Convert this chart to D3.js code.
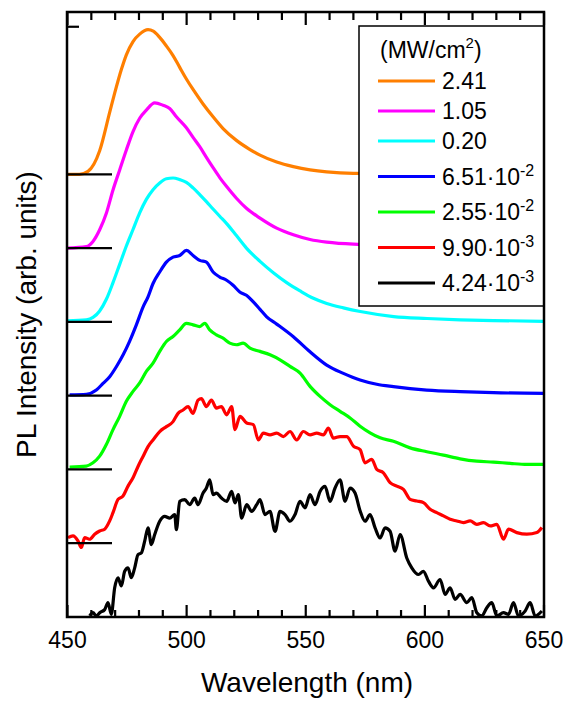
<!DOCTYPE html>
<html>
<head>
<meta charset="utf-8">
<script src="https://cdn.jsdelivr.net/npm/d3@7"></script>
<style>
body { margin: 0; background: #fff; }
text { font-family: "Liberation Sans", Arial, sans-serif; fill: #000; }
</style>
</head>
<body>
<div id="chart"></div>
<script>
// PL spectra, normalised intensity vs wavelength (nm)
var orange = [[450,0],[455,0],[458.6,0.02],[463.5,0.16],[467.7,0.42],[469.8,0.55],[472.6,0.71],[474.7,0.81],[477.5,0.9],[480.3,0.95],[483.8,0.98],[486,0.97],[488.6,0.93],[491.5,0.87],[494.3,0.805],[497.1,0.725],[499.9,0.646],[502.7,0.575],[506.9,0.477],[511.1,0.39],[515.3,0.31],[520.9,0.23],[526.6,0.168],[530.8,0.13],[537.8,0.083],[544.8,0.052],[551.8,0.03],[558.8,0.016],[570,0.006],[600,0.003],[650,0.002]];
var magenta = [[450,0],[457.9,0.01],[460.7,0.045],[463.5,0.124],[466.3,0.236],[469.1,0.394],[471.9,0.53],[474.7,0.665],[477.5,0.79],[480.3,0.88],[483.1,0.935],[486.6,0.984],[490.1,0.968],[492.9,0.946],[495.7,0.89],[499.9,0.815],[502.7,0.75],[505.5,0.687],[508.3,0.615],[511.1,0.545],[513.9,0.478],[516.8,0.417],[520.9,0.338],[525.1,0.27],[530.8,0.203],[537.8,0.135],[544.8,0.09],[551.8,0.058],[558.8,0.04],[570,0.027],[600,0.018],[650,0.012]];
var cyan = [[450,0.007],[457.9,0.014],[460.7,0.03],[463.5,0.074],[466.3,0.153],[469.1,0.266],[471.9,0.39],[474.7,0.514],[477.5,0.626],[480.3,0.739],[483.1,0.83],[485.9,0.896],[488.7,0.941],[491.5,0.97],[494.3,0.975],[497.1,0.964],[499.9,0.945],[502.7,0.908],[505.5,0.863],[508.3,0.815],[511.1,0.765],[513.9,0.716],[516.8,0.666],[520.9,0.585],[525.1,0.5],[530.8,0.41],[536.4,0.333],[542,0.266],[547.6,0.21],[553.2,0.16],[558.8,0.125],[565.8,0.095],[572.9,0.07],[586.9,0.036],[600.9,0.023],[614.8,0.014],[628.8,0.009],[649.8,0.004]];
var blue = [[450.9,0.005],[457.9,0.009],[462.1,0.038],[464.9,0.083],[467.7,0.128],[470.5,0.196],[473.3,0.275],[476.1,0.37],[478.9,0.48],[481.7,0.6],[483.8,0.67],[485.9,0.76],[488.7,0.838],[491.5,0.905],[494.3,0.939],[497.1,0.95],[499.9,0.984],[502.7,0.95],[505.5,0.917],[508.3,0.905],[511.1,0.838],[513.9,0.804],[516.8,0.782],[519.5,0.748],[522.3,0.703],[525.1,0.68],[528,0.635],[530.8,0.585],[533.6,0.534],[537.8,0.485],[544.8,0.399],[551.8,0.297],[558.8,0.207],[565.8,0.151],[572.8,0.106],[579.8,0.077],[586.8,0.061],[600.8,0.038],[614.8,0.027],[628.8,0.02],[649.8,0.016]];
var green = [[450.9,0.016],[457.9,0.023],[460.7,0.045],[463.5,0.09],[466.3,0.169],[469.1,0.27],[471.9,0.36],[474.7,0.462],[477.5,0.529],[480.3,0.586],[483.1,0.664],[485.9,0.72],[488.7,0.8],[491.5,0.867],[494.3,0.901],[497.1,0.946],[499.9,0.99],[502.7,0.98],[505.5,0.968],[507.6,0.99],[509.7,0.946],[512.5,0.912],[515.3,0.89],[518.1,0.856],[520.9,0.845],[523.7,0.856],[526.6,0.822],[530.8,0.8],[535,0.777],[539.2,0.743],[543.4,0.698],[547.6,0.653],[551.8,0.563],[556,0.495],[560.2,0.439],[564.4,0.394],[568.6,0.349],[572.8,0.293],[577,0.248],[581.2,0.214],[586.8,0.191],[593.8,0.146],[600.8,0.12],[607.8,0.097],[614.8,0.072],[621.8,0.056],[628.8,0.05],[635.8,0.041],[642.8,0.034],[649.8,0.034]];
var red = [[450.2,0.038],[452.3,0.05],[454.4,0.016],[455.8,-0.029],[457.2,0.038],[459.3,0.027],[461.4,0.061],[463.5,0.083],[465.6,0.095],[467.7,0.151],[469.1,0.207],[471.2,0.297],[473.3,0.32],[475.4,0.387],[477.5,0.443],[479.6,0.52],[481.7,0.588],[483.8,0.655],[485.9,0.7],[488.7,0.757],[491.5,0.79],[494.3,0.824],[496.4,0.88],[498.5,0.903],[500.6,0.926],[502.7,0.88],[504.8,0.97],[506.2,0.98],[508.3,0.926],[510.4,0.97],[512.5,0.916],[514.6,0.926],[516.8,0.87],[518.9,0.926],[520.3,0.77],[522.4,0.86],[525.2,0.815],[528,0.804],[530.1,0.7],[532.2,0.746],[535,0.734],[537.8,0.746],[540.6,0.723],[543.4,0.757],[546.2,0.7],[549,0.757],[551.8,0.734],[554.6,0.746],[557.4,0.734],[559.5,0.78],[561.6,0.712],[564.4,0.723],[567.2,0.723],[570,0.658],[572.8,0.635],[574.9,0.545],[577.7,0.568],[579.8,0.5],[582.6,0.477],[585.4,0.41],[588.2,0.387],[591,0.365],[593.8,0.297],[596.6,0.286],[599.4,0.275],[602.2,0.23],[605,0.207],[607.8,0.185],[610.6,0.162],[613.4,0.151],[616.2,0.14],[619,0.151],[621.8,0.128],[624.6,0.14],[627.4,0.117],[630.2,0.128],[633,0.027],[635.1,0.095],[638.6,0.072],[642.8,0.061],[647,0.072],[649.1,0.106]];
var black = [[459.3,0.007],[460.7,0.029],[462.1,0.007],[463.5,0.029],[465.6,0.05],[467,0.097],[468.4,0.018],[469.8,0.198],[471.2,0.266],[472.6,0.21],[474,0.31],[475.4,0.333],[476.8,0.266],[478.2,0.333],[479.6,0.423],[481,0.434],[482.4,0.514],[483.8,0.604],[485.2,0.491],[486.6,0.559],[488.7,0.649],[490.8,0.682],[492.9,0.67],[495,0.694],[495.7,0.592],[497.1,0.784],[499.2,0.795],[501.3,0.761],[503.4,0.806],[504.8,0.761],[506.9,0.84],[508.3,0.874],[509.7,0.93],[511.1,0.829],[512.5,0.84],[514.6,0.806],[516.8,0.784],[518.9,0.851],[520.3,0.773],[521.7,0.829],[523.1,0.67],[525.2,0.761],[527.3,0.716],[529.4,0.761],[530.8,0.795],[532.9,0.694],[535,0.716],[537.1,0.58],[539.2,0.716],[541.3,0.694],[543.4,0.649],[545.5,0.694],[547.6,0.784],[549.7,0.74],[551.8,0.829],[553.9,0.761],[556,0.851],[558.1,0.885],[560.2,0.784],[562.3,0.874],[564.4,0.93],[566.5,0.784],[568.6,0.874],[570.7,0.84],[572.8,0.72],[574.9,0.649],[577,0.694],[579.1,0.604],[581.2,0.536],[583.3,0.604],[585.4,0.581],[587.5,0.446],[589.6,0.559],[592.4,0.4],[594.5,0.333],[597.3,0.288],[599.4,0.31],[601.5,0.243],[603.6,0.198],[606.4,0.254],[608.5,0.153],[610.6,0.198],[612.7,0.119],[614.8,0.153],[617.6,0.097],[619.7,0.131],[621.8,0.029],[623.9,0.007],[626,0.063],[628.1,0.097],[630.2,0.007],[633,0.029],[635.1,0.018],[637.2,0.097],[639.3,0.007],[642.1,0.041],[644.2,0.097],[646.3,0.007],[649.1,0.041]];

var series = [orange, magenta, cyan, blue, green, red, black];
var colors = ["#ff7f00", "#ff00ff", "#00ffff", "#0000ff", "#00ff00", "#ff0000", "#000000"];
var offsets = [3, 2.5, 2, 1.5, 1, 0.5, 0];
var legendBase = ["2.41", "1.05", "0.20", "6.51\u00b710", "2.55\u00b710", "9.90\u00b710", "4.24\u00b710"];
var legendExp = ["", "", "", "-2", "-2", "-3", "-3"];
var majorTicks = [450, 500, 550, 600, 650];
var minorTicks = d3.range(460, 650, 10).filter(function(d){ return d % 50 != 0; });

var width = 566, height = 704;
var pLeft = 67, pRight = 544, pTop = 12, pBottom = 617;

var svg = d3.select("#chart").append("svg")
    .attr("width", width)
    .attr("height", height);

var x = d3.scaleLinear().domain([450, 650]).range([pLeft + 0.5, pRight]);
var y = d3.scaleLinear().domain([0, 4.1]).range([pBottom, pTop]);

svg.append("clipPath").attr("id", "clip")
    .append("rect")
    .attr("x", pLeft).attr("y", pTop)
    .attr("width", pRight - pLeft).attr("height", pBottom - pTop);

// spectra
var line = d3.line().curve(d3.curveMonotoneX);
var plot = svg.append("g").attr("clip-path", "url(#clip)");
series.forEach(function(s, i) {
    plot.append("path")
        .datum(s)
        .attr("fill", "none")
        .attr("stroke", colors[i])
        .attr("stroke-width", 3.2)
        .attr("stroke-linejoin", "round")
        .attr("d", line.x(function(d){ return x(d[0]); })
                       .y(function(d){ return y(d[1] + offsets[i]); }));
});

// x ticks, pointing inward on top and bottom
var xTicks = majorTicks.map(function(d){ return {v: d, len: 12}; })
    .concat(minorTicks.map(function(d){ return {v: d, len: 7}; }));
var tickG = svg.append("g").attr("stroke", "#000").attr("stroke-width", 2.2);
tickG.selectAll(".tb").data(xTicks).enter().append("line")
    .attr("class", "tb")
    .attr("x1", function(d){ return x(d.v); }).attr("x2", function(d){ return x(d.v); })
    .attr("y1", pBottom).attr("y2", function(d){ return pBottom - d.len; });
tickG.selectAll(".tt").data(xTicks).enter().append("line")
    .attr("class", "tt")
    .attr("x1", function(d){ return x(d.v); }).attr("x2", function(d){ return x(d.v); })
    .attr("y1", pTop).attr("y2", function(d){ return pTop + d.len + 1; });

// y ticks: baseline markers and one short tick
var yTicks = offsets.filter(function(d){ return d > 0; }).map(function(d){ return {v: d, len: 45}; })
    .concat([{v: 4, len: 12}]);
tickG.selectAll(".ty").data(yTicks).enter().append("line")
    .attr("class", "ty")
    .attr("x1", pLeft).attr("x2", function(d){ return pLeft + d.len; })
    .attr("y1", function(d){ return y(d.v); }).attr("y2", function(d){ return y(d.v); });

// x tick labels
svg.selectAll(".xl").data(majorTicks).enter().append("text")
    .attr("class", "xl")
    .attr("x", function(d){ return x(d); })
    .attr("y", 648)
    .attr("text-anchor", "middle")
    .style("font-size", "23px")
    .text(function(d){ return d; });

// legend
var legend = svg.append("g");
legend.append("rect")
    .attr("x", 359).attr("y", 26)
    .attr("width", pRight - 359).attr("height", 280)
    .attr("fill", "#fff")
    .attr("stroke", "#000")
    .attr("stroke-width", 1.5);

var title = legend.append("text").attr("x", 380).attr("y", 58).style("font-size", "23px");
title.append("tspan").text("(MW/cm");
title.append("tspan").attr("dy", -10).style("font-size", "15px").text("2");
title.append("tspan").attr("dy", 10).text(")");

var rowY = 81;
legendBase.forEach(function(lbl, i) {
    if (i > 0) rowY += legendExp[i] ? 35.5 : 30;
    legend.append("line")
        .attr("x1", 378).attr("x2", 435)
        .attr("y1", rowY).attr("y2", rowY)
        .attr("stroke", colors[i])
        .attr("stroke-width", 3);
    var t = legend.append("text")
        .attr("x", 442).attr("y", rowY + 8)
        .style("font-size", "23px");
    t.append("tspan").text(lbl);
    if (legendExp[i]) {
        t.append("tspan").attr("dy", -9).style("font-size", "16px").text(legendExp[i]);
    }
});

// frame
svg.append("rect")
    .attr("x", pLeft).attr("y", pTop)
    .attr("width", pRight - pLeft).attr("height", pBottom - pTop)
    .attr("fill", "none")
    .attr("stroke", "#000")
    .attr("stroke-width", 2.5);

// axis titles
svg.append("text")
    .attr("x", 307).attr("y", 692)
    .attr("text-anchor", "middle")
    .style("font-size", "28px")
    .text("Wavelength (nm)");

svg.append("text")
    .attr("transform", "translate(36," + ((pTop + pBottom) / 2) + ") rotate(-90)")
    .attr("text-anchor", "middle")
    .style("font-size", "28px")
    .text("PL Intensity (arb. units)");
</script>
</body>
</html>
